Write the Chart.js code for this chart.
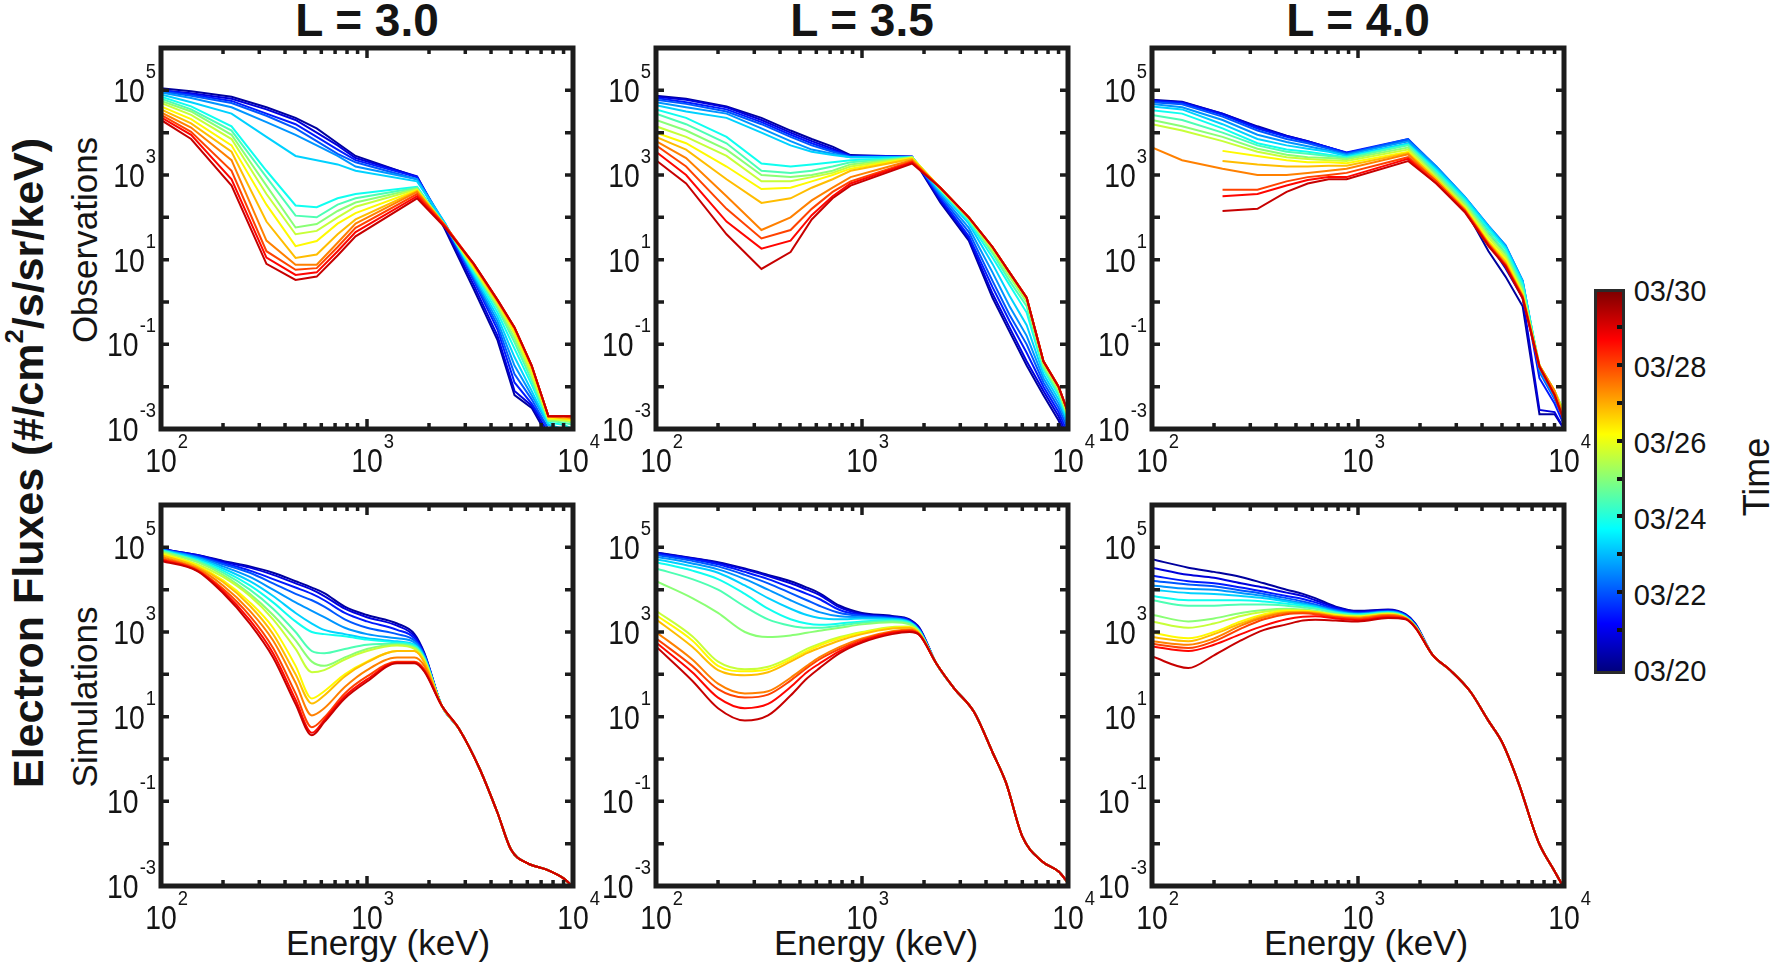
<!DOCTYPE html>
<html>
<head>
<meta charset="utf-8">
<title>Electron flux spectra</title>
<script src="https://cdn.jsdelivr.net/npm/chart.js@4/dist/chart.umd.min.js"></script>
<style>
  body { margin: 0; background: #fff; width: 1770px; height: 967px; overflow: hidden; position: relative;
         font-family: "Liberation Sans", Arial, sans-serif; color: #141414; }
  canvas { position: absolute; }
  .t { position: absolute; white-space: nowrap; line-height: 1; transform: translate(-50%, -50%); }
  .r { transform: translate(-50%, -50%) rotate(-90deg); }
  .t sup { font-size: 0.6em; line-height: 0; vertical-align: 0.75em; }
  #cbar { position: absolute; left: 1594px; top: 289px; width: 31px; height: 385px; box-sizing: border-box;
          border: 3px solid #2a2a2a;
          background: linear-gradient(to top, #00007f 0%, #0000ff 12.5%, #00ffff 37.5%, #ffff00 62.5%, #ff0000 87.5%, #7f0000 100%); }
  .ctick { position: absolute; width: 5px; height: 4px; background: #111; }
</style>
</head>
<body>

<div class="t" style="left:367px;top:20px;font-size:46px;font-weight:bold">L = 3.0</div>
<div class="t" style="left:862px;top:20px;font-size:46px;font-weight:bold">L = 3.5</div>
<div class="t" style="left:1358px;top:20px;font-size:46px;font-weight:bold">L = 4.0</div>

<div class="t r" style="left:28px;top:463px;font-size:43px;font-weight:bold">Electron Fluxes (#/cm<sup>2</sup>/s/sr/keV)</div>
<div class="t r" style="left:84px;top:240px;font-size:35px">Observations</div>
<div class="t r" style="left:84px;top:697px;font-size:35px">Simulations</div>

<div class="t" style="left:388px;top:942px;font-size:35px">Energy (keV)</div>
<div class="t" style="left:876px;top:942px;font-size:35px">Energy (keV)</div>
<div class="t" style="left:1366px;top:942px;font-size:35px">Energy (keV)</div>

<div id="cbar"></div>
<div class="t r" style="left:1757px;top:477px;font-size:36px">Time</div>

<script>
// energies (keV)
var E_OBS = [100, 140, 220, 325, 450, 570, 720, 880, 1750, 2400, 3300, 4300, 5200, 6300, 7600, 9000, 10000];
var E_SIM = [100, 150, 200, 270, 350, 450, 540, 620, 780, 1000, 1400, 1700, 1900,
             2300, 2800, 3500, 4300, 5000, 6000, 7500, 9000, 10000];

// time of each curve (day of March), sets its colour on the colour bar
var LINE_DAYS = [20.3, 20.9, 21.5, 22.1, 22.7, 23.3, 23.9, 24.5, 25.1, 25.7, 26.3, 26.9, 27.5, 28.1, 28.7, 29.3];
var CBAR_LABELS = ["03/20", "03/22", "03/24", "03/26", "03/28", "03/30"];

// all fluxes below are log10(#/cm2/s/sr/keV), one row per time
var OBS_L30 = [
  [5.05, 4.98, 4.85, 4.6, 4.35, 4.1, 3.75, 3.45, 2.95, 1.7, 0.3, -0.9, -2.2, -2.5, -3.2, -3.5, -3.6],
  [5.0, 4.93, 4.8, 4.55, 4.3, 4.0, 3.7, 3.4, 2.97, 1.75, 0.4, -0.8, -2.1, -2.45, -3.1, -3.4, -3.5],
  [5.0, 4.9, 4.75, 4.45, 4.2, 3.9, 3.6, 3.35, 2.95, 1.8, 0.5, -0.65, -1.9, -2.4, -3.0, -3.3, -3.4],
  [4.97, 4.87, 4.7, 4.4, 4.1, 3.8, 3.5, 3.3, 2.9, 1.8, 0.55, -0.55, -1.7, -2.3, -3.0, -3.2, -3.3],
  [4.95, 4.82, 4.6, 4.25, 3.95, 3.7, 3.45, 3.2, 2.9, 1.85, 0.6, -0.45, -1.5, -2.2, -2.9, -3.1, -3.2],
  [4.9, 4.72, 4.45, 3.9, 3.45, 3.35, 3.25, 3.1, 2.85, 1.85, 0.65, -0.35, -1.3, -2.1, -2.9, -3.0, -3.1],
  [4.85, 4.62, 4.15, 3.1, 2.28, 2.24, 2.45, 2.55, 2.72, 1.8, 0.7, -0.25, -1.1, -1.95, -2.85, -2.9, -3.0],
  [4.8, 4.55, 4.05, 2.95, 2.04, 2.0, 2.3, 2.45, 2.7, 1.8, 0.75, -0.15, -0.95, -1.85, -2.8, -2.85, -2.9],
  [4.75, 4.5, 3.95, 2.75, 1.76, 1.84, 2.15, 2.35, 2.68, 1.8, 0.78, -0.1, -0.85, -1.75, -2.8, -2.8, -2.85],
  [4.7, 4.42, 3.85, 2.55, 1.6, 1.68, 2.0, 2.25, 2.66, 1.8, 0.8, -0.05, -0.75, -1.7, -2.75, -2.8, -2.8],
  [4.62, 4.32, 3.7, 2.3, 1.32, 1.44, 1.85, 2.1, 2.64, 1.8, 0.82, 0.0, -0.7, -1.6, -2.75, -2.75, -2.8],
  [4.55, 4.22, 3.55, 1.9, 1.04, 1.12, 1.6, 1.95, 2.62, 1.8, 0.85, 0.0, -0.65, -1.55, -2.7, -2.75, -2.75],
  [4.48, 4.12, 3.35, 1.45, 0.88, 0.88, 1.4, 1.85, 2.6, 1.8, 0.88, 0.03, -0.6, -1.5, -2.7, -2.7, -2.75],
  [4.42, 4.02, 3.1, 1.2, 0.76, 0.8, 1.3, 1.75, 2.55, 1.8, 0.9, 0.05, -0.6, -1.5, -2.7, -2.7, -2.7],
  [4.36, 3.95, 2.9, 1.05, 0.64, 0.7, 1.2, 1.65, 2.5, 1.78, 0.9, 0.05, -0.6, -1.5, -2.7, -2.7, -2.7],
  [4.3, 3.85, 2.75, 0.9, 0.52, 0.6, 1.1, 1.55, 2.45, 1.75, 0.9, 0.05, -0.6, -1.5, -2.7, -2.7, -2.7]
];

var OBS_L35 = [
  [4.87, 4.8, 4.62, 4.35, 4.05, 3.85, 3.67, 3.47, 3.43, 2.35, 1.45, 0.1, -0.7, -1.5, -2.2, -2.8, -3.3],
  [4.85, 4.78, 4.6, 4.3, 4.0, 3.8, 3.62, 3.45, 3.43, 2.4, 1.5, 0.2, -0.6, -1.4, -2.1, -2.7, -3.2],
  [4.82, 4.72, 4.55, 4.25, 3.95, 3.75, 3.58, 3.45, 3.43, 2.45, 1.55, 0.35, -0.45, -1.2, -2.0, -2.6, -3.1],
  [4.78, 4.68, 4.5, 4.2, 3.9, 3.7, 3.55, 3.43, 3.43, 2.5, 1.65, 0.5, -0.3, -1.0, -1.9, -2.5, -3.0],
  [4.72, 4.6, 4.45, 4.1, 3.8, 3.6, 3.5, 3.42, 3.42, 2.55, 1.75, 0.7, -0.1, -0.8, -1.8, -2.4, -2.9],
  [4.65, 4.5, 4.35, 4.0, 3.7, 3.55, 3.47, 3.42, 3.42, 2.6, 1.85, 0.9, 0.15, -0.55, -1.7, -2.3, -2.85],
  [4.55, 4.35, 3.9, 3.27, 3.2, 3.25, 3.3, 3.35, 3.42, 2.65, 1.9, 1.05, 0.4, -0.25, -1.6, -2.2, -2.8],
  [4.45, 4.2, 3.75, 3.1, 3.05, 3.1, 3.2, 3.3, 3.42, 2.65, 1.95, 1.15, 0.5, -0.1, -1.55, -2.15, -2.75],
  [4.3, 4.05, 3.6, 3.0, 2.95, 3.0, 3.1, 3.25, 3.42, 2.67, 1.97, 1.2, 0.6, 0.0, -1.5, -2.1, -2.7],
  [4.15, 3.9, 3.45, 2.85, 2.85, 2.95, 3.05, 3.2, 3.41, 2.68, 1.98, 1.25, 0.65, 0.05, -1.45, -2.05, -2.7],
  [4.0, 3.75, 3.2, 2.67, 2.7, 2.85, 3.0, 3.15, 3.4, 2.7, 2.0, 1.3, 0.7, 0.1, -1.4, -2.0, -2.6],
  [3.9, 3.6, 2.9, 2.34, 2.45, 2.7, 2.9, 3.1, 3.38, 2.7, 2.0, 1.3, 0.7, 0.1, -1.4, -2.0, -2.6],
  [3.8, 3.4, 2.5, 1.7, 2.0, 2.4, 2.7, 2.95, 3.35, 2.7, 2.0, 1.3, 0.7, 0.1, -1.4, -2.0, -2.6],
  [3.7, 3.2, 2.2, 1.5, 1.7, 2.2, 2.6, 2.85, 3.32, 2.7, 2.0, 1.3, 0.7, 0.1, -1.4, -2.0, -2.6],
  [3.55, 3.0, 1.9, 1.26, 1.45, 2.05, 2.5, 2.8, 3.3, 2.7, 2.0, 1.3, 0.7, 0.1, -1.4, -2.0, -2.6],
  [3.35, 2.8, 1.6, 0.78, 1.18, 1.95, 2.45, 2.75, 3.27, 2.7, 2.0, 1.3, 0.7, 0.1, -1.4, -2.0, -2.6]
];

var OBS_L40 = [
  [4.78, 4.73, 4.45, 4.15, 3.93, 3.8, 3.65, 3.52, 3.8, 3.0, 2.2, 1.2, 0.6, -0.1, -2.65, -2.65, -3.0],
  [4.76, 4.72, 4.45, 4.13, 3.92, 3.8, 3.65, 3.52, 3.82, 3.05, 2.3, 1.4, 0.8, 0.1, -2.55, -2.6, -3.0],
  [4.75, 4.7, 4.42, 4.1, 3.9, 3.78, 3.65, 3.53, 3.85, 3.15, 2.42, 1.65, 1.15, 0.35, -1.8, -2.4, -2.9],
  [4.72, 4.67, 4.38, 4.05, 3.85, 3.75, 3.62, 3.5, 3.85, 3.2, 2.48, 1.8, 1.34, 0.5, -1.65, -2.3, -2.8],
  [4.68, 4.6, 4.3, 3.95, 3.78, 3.68, 3.58, 3.48, 3.8, 3.2, 2.48, 1.8, 1.34, 0.5, -1.6, -2.25, -2.75],
  [4.62, 4.55, 4.2, 3.85, 3.7, 3.62, 3.55, 3.45, 3.75, 3.15, 2.47, 1.78, 1.3, 0.48, -1.55, -2.2, -2.7],
  [4.53, 4.45, 4.1, 3.75, 3.6, 3.55, 3.48, 3.42, 3.72, 3.1, 2.42, 1.72, 1.25, 0.42, -1.5, -2.15, -2.6],
  [4.42, 4.3, 4.0, 3.7, 3.55, 3.5, 3.45, 3.4, 3.7, 3.05, 2.37, 1.65, 1.18, 0.35, -1.5, -2.1, -2.6],
  [4.3, 4.15, 3.9, 3.62, 3.48, 3.42, 3.4, 3.37, 3.65, 3.0, 2.32, 1.58, 1.12, 0.28, -1.5, -2.1, -2.6],
  [4.2, 4.05, 3.8, 3.55, 3.42, 3.38, 3.35, 3.33, 3.6, 2.95, 2.27, 1.52, 1.06, 0.22, -1.5, -2.1, -2.6],
  [null, null, 3.57, 3.45, 3.35, 3.3, 3.3, 3.28, 3.55, 2.9, 2.22, 1.45, 1.0, 0.18, -1.5, -2.1, -2.7],
  [null, null, 3.33, 3.25, 3.2, 3.2, 3.22, 3.22, 3.52, 2.9, 2.2, 1.4, 0.95, 0.15, -1.5, -2.1, -2.7],
  [3.65, 3.35, 3.15, 3.0, 3.0, 3.05, 3.1, 3.15, 3.49, 2.85, 2.18, 1.38, 0.9, 0.14, -1.5, -2.1, -2.75],
  [null, null, 2.65, 2.65, 2.85, 2.95, 3.0, 3.05, 3.42, 2.85, 2.16, 1.36, 0.88, 0.12, -1.53, -2.2, -2.8],
  [null, null, 2.5, 2.55, 2.75, 2.88, 2.95, 2.95, 3.38, 2.8, 2.14, 1.34, 0.86, 0.1, -1.53, -2.2, -2.8],
  [null, null, 2.15, 2.2, 2.6, 2.8, 2.9, 2.9, 3.33, 2.8, 2.12, 1.32, 0.84, 0.08, -1.53, -2.2, -2.8]
];

// simulations: values up to 1900 keV per time, then the shared high-energy tail
var SIM_L30 = [
  [4.96, 4.82, 4.68, 4.55, 4.4, 4.2, 4.05, 3.92, 3.6, 3.4, 3.2, 2.95, 2.5],
  [4.96, 4.82, 4.66, 4.52, 4.35, 4.15, 4.0, 3.85, 3.55, 3.35, 3.15, 2.9, 2.48],
  [4.96, 4.8, 4.63, 4.45, 4.25, 4.05, 3.9, 3.75, 3.45, 3.25, 3.05, 2.85, 2.45],
  [4.95, 4.78, 4.6, 4.4, 4.15, 3.9, 3.75, 3.6, 3.3, 3.1, 2.95, 2.8, 2.45],
  [4.95, 4.76, 4.55, 4.3, 4.0, 3.7, 3.5, 3.35, 3.1, 2.95, 2.85, 2.75, 2.42],
  [4.94, 4.73, 4.5, 4.2, 3.85, 3.45, 3.2, 3.05, 2.95, 2.85, 2.78, 2.7, 2.4],
  [4.93, 4.7, 4.45, 4.1, 3.7, 3.25, 3.0, 2.95, 2.9, 2.82, 2.75, 2.68, 2.38],
  [4.92, 4.68, 4.4, 4.0, 3.55, 3.0, 2.55, 2.5, 2.6, 2.7, 2.72, 2.65, 2.36],
  [4.9, 4.65, 4.35, 3.9, 3.4, 2.8, 2.3, 2.2, 2.4, 2.6, 2.7, 2.63, 2.35],
  [4.88, 4.6, 4.3, 3.85, 3.3, 2.6, 2.05, 2.1, 2.35, 2.55, 2.68, 2.6, 2.33],
  [4.85, 4.57, 4.22, 3.7, 3.1, 2.2, 1.43, 1.6, 2.0, 2.3, 2.55, 2.55, 2.3],
  [4.82, 4.54, 4.18, 3.62, 2.95, 2.0, 1.31, 1.5, 1.95, 2.28, 2.55, 2.55, 2.28],
  [4.78, 4.5, 4.1, 3.5, 2.8, 1.8, 1.03, 1.2, 1.7, 2.1, 2.4, 2.4, 2.2],
  [4.74, 4.47, 4.02, 3.38, 2.62, 1.55, 0.75, 0.98, 1.55, 1.95, 2.3, 2.3, 2.12],
  [4.71, 4.45, 3.97, 3.28, 2.5, 1.4, 0.62, 0.92, 1.48, 1.88, 2.28, 2.28, 2.08],
  [4.68, 4.44, 3.92, 3.2, 2.4, 1.3, 0.56, 0.87, 1.43, 1.83, 2.26, 2.26, 2.06]
];
var SIM_L30_TAIL = [1.27, 0.71, -0.2, -1.27, -2.14, -2.46, -2.62, -2.82, -3.02];

var SIM_L35 = [
  [4.88, 4.75, 4.65, 4.5, 4.35, 4.2, 4.05, 3.92, 3.62, 3.45, 3.38, 3.3, 3.1],
  [4.87, 4.74, 4.63, 4.48, 4.32, 4.15, 4.0, 3.88, 3.58, 3.42, 3.36, 3.28, 3.08],
  [4.85, 4.72, 4.6, 4.42, 4.25, 4.05, 3.9, 3.78, 3.52, 3.4, 3.35, 3.27, 3.06],
  [4.82, 4.68, 4.55, 4.35, 4.15, 3.92, 3.75, 3.62, 3.45, 3.38, 3.33, 3.25, 3.05],
  [4.78, 4.62, 4.48, 4.25, 4.0, 3.75, 3.58, 3.47, 3.37, 3.35, 3.32, 3.24, 3.04],
  [4.72, 4.55, 4.4, 4.1, 3.8, 3.55, 3.4, 3.33, 3.3, 3.32, 3.3, 3.23, 3.03],
  [4.65, 4.45, 4.25, 3.9, 3.55, 3.3, 3.2, 3.17, 3.2, 3.25, 3.28, 3.22, 3.02],
  [4.5, 4.25, 4.0, 3.6, 3.3, 3.15, 3.1, 3.1, 3.15, 3.22, 3.26, 3.2, 3.01],
  [4.2, 3.8, 3.45, 3.0, 2.88, 2.92, 2.98, 3.03, 3.1, 3.18, 3.23, 3.18, 3.0],
  [3.5, 2.9, 2.3, 2.12, 2.18, 2.4, 2.6, 2.72, 2.88, 3.0, 3.12, 3.13, 2.98],
  [3.4, 2.8, 2.2, 2.07, 2.12, 2.35, 2.55, 2.68, 2.85, 2.98, 3.1, 3.12, 2.97],
  [3.3, 2.65, 2.1, 1.98, 2.05, 2.3, 2.5, 2.62, 2.8, 2.95, 3.08, 3.1, 2.96],
  [3.0, 2.35, 1.78, 1.55, 1.6, 1.92, 2.2, 2.4, 2.65, 2.85, 3.02, 3.06, 2.95],
  [2.85, 2.2, 1.65, 1.45, 1.52, 1.85, 2.15, 2.35, 2.6, 2.82, 3.0, 3.04, 2.94],
  [2.75, 2.05, 1.45, 1.2, 1.3, 1.7, 2.05, 2.25, 2.55, 2.78, 2.98, 3.02, 2.93],
  [2.66, 1.85, 1.2, 0.91, 1.03, 1.5, 1.9, 2.14, 2.5, 2.75, 2.95, 3.0, 2.93]
];
var SIM_L35_TAIL = [2.25, 1.67, 1.11, 0.16, -0.56, -1.83, -2.42, -2.66, -2.92];

var SIM_L40 = [
  [4.72, 4.52, 4.42, 4.3, 4.15, 4.0, 3.9, 3.8, 3.6, 3.5, 3.53, 3.42, 3.2],
  [4.52, 4.35, 4.28, 4.15, 4.05, 3.93, 3.85, 3.75, 3.58, 3.48, 3.52, 3.41, 3.18],
  [4.33, 4.2, 4.15, 4.05, 3.95, 3.85, 3.78, 3.7, 3.55, 3.46, 3.5, 3.4, 3.17],
  [4.21, 4.12, 4.08, 3.98, 3.9, 3.8, 3.72, 3.65, 3.52, 3.44, 3.49, 3.39, 3.16],
  [4.1, 4.02, 4.0, 3.92, 3.85, 3.75, 3.68, 3.62, 3.5, 3.43, 3.48, 3.38, 3.15],
  [4.0, 3.92, 3.9, 3.85, 3.8, 3.72, 3.65, 3.6, 3.48, 3.42, 3.47, 3.37, 3.15],
  [3.85, 3.75, 3.75, 3.75, 3.72, 3.67, 3.62, 3.57, 3.46, 3.41, 3.46, 3.36, 3.14],
  [3.75, 3.62, 3.62, 3.65, 3.65, 3.62, 3.58, 3.55, 3.45, 3.4, 3.45, 3.35, 3.14],
  [3.41, 3.25, 3.32, 3.45, 3.52, 3.55, 3.53, 3.5, 3.42, 3.38, 3.44, 3.35, 3.13],
  [3.25, 3.1, 3.2, 3.38, 3.48, 3.52, 3.5, 3.48, 3.41, 3.37, 3.43, 3.34, 3.13],
  [2.98, 2.85, 3.0, 3.25, 3.42, 3.5, 3.5, 3.47, 3.4, 3.36, 3.42, 3.34, 3.12],
  [2.88, 2.78, 2.95, 3.2, 3.38, 3.47, 3.48, 3.46, 3.38, 3.35, 3.41, 3.33, 3.12],
  [2.78, 2.7, 2.85, 3.15, 3.35, 3.45, 3.46, 3.44, 3.36, 3.33, 3.4, 3.33, 3.11],
  [2.72, 2.62, 2.78, 3.08, 3.3, 3.42, 3.44, 3.42, 3.35, 3.31, 3.38, 3.32, 3.11],
  [2.66, 2.55, 2.7, 2.95, 3.15, 3.3, 3.36, 3.37, 3.32, 3.28, 3.35, 3.31, 3.1],
  [2.42, 2.15, 2.45, 2.8, 3.05, 3.18, 3.27, 3.29, 3.27, 3.25, 3.33, 3.3, 3.1]
];
var SIM_L40_TAIL = [2.46, 2.1, 1.6, 0.9, 0.4, -0.55, -1.95, -2.65, -3.05];

// axis decorations
var Y_TICKS = [1e-2, 1e-1, 1, 10, 100, 1e3, 1e4, 1e5];
var X_TICKS = [200, 300, 400, 500, 600, 700, 800, 900, 1000, 2000, 3000, 4000, 5000, 6000, 7000, 8000, 9000];
var Y_LABEL_EXP = [5, 3, 1, -1, -3];
var X_LABEL_EXP = [2, 3, 4];

var COL_LEFT = [161, 656, 1152];
var ROW_TOP = [48, 505];
var AREA_W = 412, AREA_H = 381;
var PAD = { left: 75, top: 20, right: 45, bottom: 60 };
var FONT = '"Liberation Sans", Arial, sans-serif';

function jet(t) {
  function c(v) { return Math.round(255 * Math.max(0, Math.min(1, v))); }
  return "rgb(" + c(1.5 - Math.abs(4 * t - 3)) + "," + c(1.5 - Math.abs(4 * t - 2)) + "," + c(1.5 - Math.abs(4 * t - 1)) + ")";
}

// narrow text like the reference figure
function narrowText(ctx, s, x, y, align, sx) {
  var w = ctx.measureText(s).width * sx;
  var x0 = align === "right" ? x - w : (align === "center" ? x - w / 2 : x);
  ctx.save();
  ctx.translate(x0, y);
  ctx.scale(sx, 1);
  ctx.textAlign = "left";
  ctx.fillText(s, 0, 0);
  ctx.restore();
  return w;
}

// inside ticks, heavy frame and 10^n labels, all placed through the chart's scales
var framePlugin = {
  id: "frame",
  afterDatasetsDraw: function(chart) {
    var ctx = chart.ctx, a = chart.chartArea, xs = chart.scales.x, ys = chart.scales.y;
    ctx.save();
    ctx.strokeStyle = "#1c1c1c";
    ctx.lineWidth = 3.5;
    ctx.beginPath();
    Y_TICKS.forEach(function(v) {
      var py = ys.getPixelForValue(v);
      ctx.moveTo(a.left, py); ctx.lineTo(a.left + 8, py);
      ctx.moveTo(a.right, py); ctx.lineTo(a.right - 8, py);
    });
    X_TICKS.forEach(function(v) {
      var px = xs.getPixelForValue(v);
      var len = v === 1000 ? 10 : 6;
      ctx.moveTo(px, a.bottom); ctx.lineTo(px, a.bottom - len);
      ctx.moveTo(px, a.top); ctx.lineTo(px, a.top + len);
    });
    ctx.stroke();
    ctx.lineWidth = 5;
    ctx.strokeRect(a.left, a.top, a.right - a.left, a.bottom - a.top);

    ctx.fillStyle = "#141414";
    ctx.textBaseline = "alphabetic";
    Y_LABEL_EXP.forEach(function(e) {
      var py = ys.getPixelForValue(Math.pow(10, e));
      ctx.font = "20px " + FONT;
      var ew = narrowText(ctx, String(e), a.left - 5, py - 12, "right", 0.92);
      ctx.font = "33px " + FONT;
      narrowText(ctx, "10", a.left - 6 - ew, py + 12, "right", 0.86);
    });
    X_LABEL_EXP.forEach(function(e) {
      var px = xs.getPixelForValue(Math.pow(10, e));
      ctx.font = "33px " + FONT;
      var w = ctx.measureText("10").width * 0.86;
      narrowText(ctx, "10", px, a.bottom + 43, "center", 0.86);
      ctx.font = "20px " + FONT;
      narrowText(ctx, String(e), px + w / 2 + 1, a.bottom + 19, "left", 0.92);
    });
    ctx.restore();
  }
};

function buildDatasets(energies, rows, tail, smooth) {
  return rows.map(function(row, i) {
    var vals = tail ? row.concat(tail) : row;
    return {
      data: energies.map(function(e, j) {
        return { x: e, y: vals[j] === null ? null : Math.pow(10, vals[j]) };
      }),
      borderColor: jet((LINE_DAYS[i] - 20) / 10),
      borderWidth: 2,
      pointRadius: 0,
      fill: false,
      tension: smooth ? 0.4 : 0,
      cubicInterpolationMode: smooth ? "monotone" : "default",
      order: rows.length - i
    };
  });
}

var panels = [
  { col: 0, row: 0, e: E_OBS, rows: OBS_L30, tail: null, smooth: false },
  { col: 1, row: 0, e: E_OBS, rows: OBS_L35, tail: null, smooth: false },
  { col: 2, row: 0, e: E_OBS, rows: OBS_L40, tail: null, smooth: false },
  { col: 0, row: 1, e: E_SIM, rows: SIM_L30, tail: SIM_L30_TAIL, smooth: true },
  { col: 1, row: 1, e: E_SIM, rows: SIM_L35, tail: SIM_L35_TAIL, smooth: true },
  { col: 2, row: 1, e: E_SIM, rows: SIM_L40, tail: SIM_L40_TAIL, smooth: true }
];

panels.forEach(function(p) {
  var canvas = document.createElement("canvas");
  canvas.width = PAD.left + AREA_W + PAD.right;
  canvas.height = PAD.top + AREA_H + PAD.bottom;
  canvas.style.left = (COL_LEFT[p.col] - PAD.left) + "px";
  canvas.style.top = (ROW_TOP[p.row] - PAD.top) + "px";
  document.body.appendChild(canvas);

  new Chart(canvas.getContext("2d"), {
    type: "line",
    data: { datasets: buildDatasets(p.e, p.rows, p.tail, p.smooth) },
    options: {
      responsive: false,
      animation: false,
      events: [],
      layout: { padding: PAD },
      plugins: { legend: { display: false }, tooltip: { enabled: false } },
      scales: {
        x: { type: "logarithmic", min: 100, max: 10000, display: false },
        y: { type: "logarithmic", min: 1e-3, max: 1e6, display: false }
      }
    },
    plugins: [framePlugin]
  });
});

// colour bar ticks and labels
var cbar = document.getElementById("cbar");
for (var d = 1; d < 10; d++) {
  var tk = document.createElement("div");
  tk.className = "ctick";
  tk.style.left = "20px";
  tk.style.top = (379 - 3 - 2 - d * 37.9) + "px";
  cbar.appendChild(tk);
}
CBAR_LABELS.forEach(function(lab, k) {
  var el = document.createElement("div");
  el.className = "t";
  el.style.fontSize = "29px";
  el.style.left = (1633 + 37) + "px";
  el.style.top = (671 - k * 76) + "px";
  el.textContent = lab;
  document.body.appendChild(el);
});
</script>
</body>
</html>
